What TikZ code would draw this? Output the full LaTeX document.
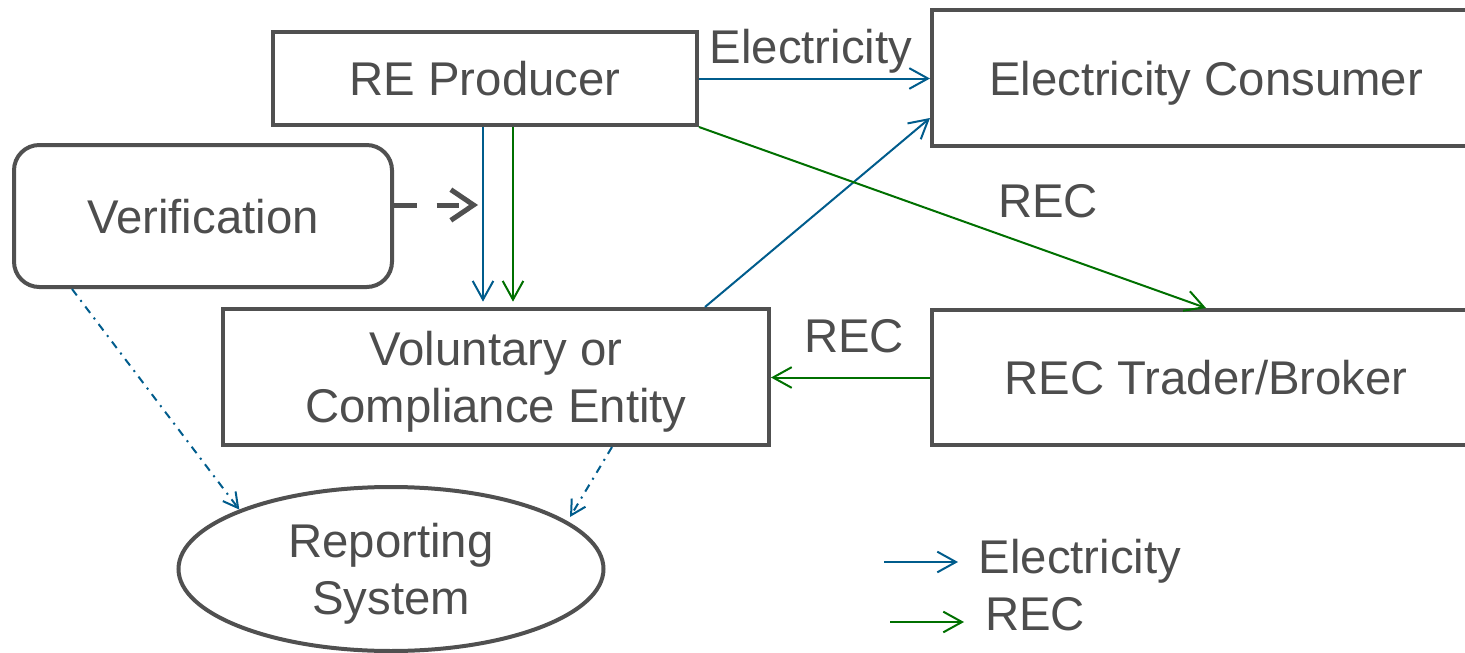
\documentclass[tikz,border=0pt]{standalone}
\usepackage{fontspec}
\setmainfont{Liberation Sans}
\usetikzlibrary{arrows.meta,calc,shapes.geometric}

\definecolor{boxgray}{RGB}{80,80,80}
\definecolor{textgray}{RGB}{77,77,77}
\definecolor{elecblue}{RGB}{0,92,140}
\definecolor{recgreen}{RGB}{0,112,0}

\tikzset{
  every picture/.style={line width=0.75pt},
  every node/.style={font=\fontsize{35.5}{42.5}\selectfont, text=textgray},
  box/.style={draw=boxgray, line width=3pt, rectangle, text depth=0pt, align=center},
  roundbox/.style={box, rounded corners=19pt},
  oval/.style={draw=boxgray, line width=3pt, ellipse, inner sep=0pt, text depth=0pt, align=center},
  lbl/.style={inner sep=0pt, anchor=base},
  elec/.style={draw=elecblue, line width=1.5pt, -{Straight Barb[length=14pt,width=15.5pt]}},
  rec/.style={elec, draw=recgreen},
  verifarrow/.style={draw=boxgray, line width=3.75pt, dash pattern=on 17pt off 15pt, -{Straight Barb[length=17pt,width=23pt]}},
  reportarrow/.style={draw=elecblue, line width=1.5pt, dash pattern=on 6pt off 4.5pt on 1.5pt off 4.5pt, -{Straight Barb[length=11pt,width=12pt]}}
}

\begin{document}
\begin{tikzpicture}[x=0.75pt,y=0.75pt,yscale=-1,xscale=1]
	\clip (0,0) rectangle (1465,653);
	\useasboundingbox (0,0) rectangle (1465,653);

	% Boxes
	\node[box, minimum width=318pt, minimum height=69.75pt] (prod) at (485,78.5) {RE Producer};
	\node[box, minimum width=411pt, minimum height=102pt] (cons) at (1206,78) {Electricity Consumer};
	\node[box, minimum width=411pt, minimum height=101.25pt] (trader) at (1206,377.5) {REC Trader/Broker};
	\node[box, minimum width=409.5pt, minimum height=102pt] (vol) at (496,377) {Voluntary or\\Compliance Entity};
	\node[roundbox, minimum width=283.5pt, minimum height=106.5pt] (verif) at (203,216) {Verification};
	\node[oval, minimum width=318.75pt, minimum height=123pt] (report) at (391,569) {Reporting\\System};

	% Free ends
	\coordinate (prodelec) at ($(prod.south)+(-2,0)$);
	\coordinate (prodrec) at ($(prod.south)+(28,0)$);
	\coordinate (veriftip) at (478,205);
	\coordinate (volout) at ($(vol.north west)!0.88!(vol.north east)$);
	\coordinate (consin) at ($(cons.south west)+(0,-30)$);
	\coordinate (verifout) at ($(verif.south west)+(60,0)$);
	\coordinate (volreport) at ($(vol.south west)+(391,0)$);
	\coordinate (reportin) at ($(report.center)+(179,-52)$);

	% Electricity flows
	\draw[elec] (prod.east) -- (prod.east -| cons.west);
	\draw[elec, shorten >=4pt] (prodelec) -- (prodelec |- vol.north);
	\draw[elec] (volout) -- (consin);

	% REC flows
	\draw[rec, shorten >=4pt] (prodrec) -- (prodrec |- vol.north);
	\draw[rec] (prod.south east) -- (trader.north);
	\draw[rec] (trader.west) -- (trader.west -| vol.east);

	% Verification and reporting
	\draw[verifarrow] (verif.east |- veriftip) -- (veriftip);
	\draw[reportarrow] (verifout) -- (report.north west);
	\draw[reportarrow] (volreport) -- (reportin);

	% Text Node
	\node[lbl] (elecLbl) at (811,63) {Electricity};
	% Text Node
	\node[lbl] (recLblA) at (1048,217) {REC};
	% Text Node
	\node[lbl] (recLblB) at (854,352) {REC};

	% Legend
	\coordinate (lgelecA) at (884,562);
	\coordinate (lgelecB) at (958,562);
	\coordinate (lgrecA) at (890,622);
	\coordinate (lgrecB) at (964,622);
	\draw[elec] (lgelecA) -- (lgelecB);
	\draw[rec] (lgrecA) -- (lgrecB);
	\node[lbl] (lgelec) at (1080,573) {Electricity};
	\node[lbl] (lgrec) at (1035,630) {REC};

\end{tikzpicture}
\end{document}
